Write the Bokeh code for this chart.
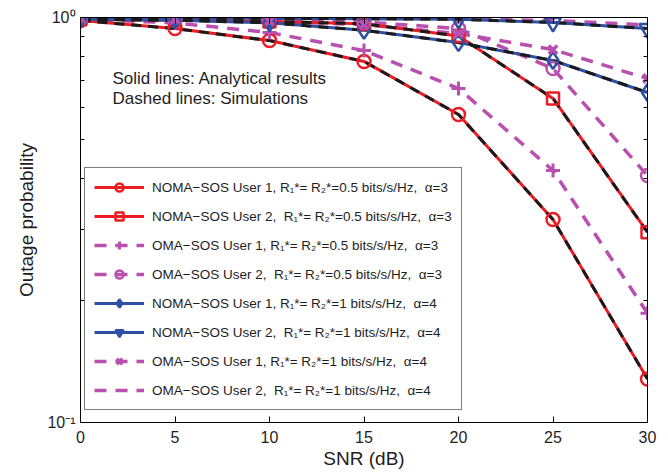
from bokeh.plotting import figure
from bokeh.models import Range1d, FixedTicker, LinearAxis, LogAxis, Legend, LegendItem, Label
from bokeh.embed import file_html
from bokeh.resources import INLINE

snr = [0, 5, 10, 15, 20, 25, 30]

noma_u1_a3 = [0.983, 0.939, 0.877, 0.779, 0.576, 0.317, 0.128]
noma_u2_a3 = [0.99, 0.985, 0.978, 0.965, 0.90, 0.631, 0.295]
oma_u1_a3 = [0.99, 0.97, 0.918, 0.829, 0.668, 0.419, 0.186]
oma_u2_a3 = [0.995, 0.993, 0.99, 0.975, 0.939, 0.748, 0.407]
noma_u1_a4 = [0.99, 0.985, 0.97, 0.93, 0.867, 0.783, 0.653]
noma_u2_a4 = [0.998, 0.997, 0.995, 0.993, 0.99, 0.972, 0.939]
oma_u1_a4 = [0.995, 0.99, 0.98, 0.96, 0.913, 0.833, 0.707]
oma_u2_a4 = [0.999, 0.998, 0.997, 0.995, 0.993, 0.983, 0.958]

labels = [
    "NOMA\u2212SOS User 1, R\u2081*= R\u2082*=0.5 bits/s/Hz,  \u03b1=3",
    "NOMA\u2212SOS User 2,  R\u2081*= R\u2082*=0.5 bits/s/Hz,  \u03b1=3",
    "OMA\u2212SOS User 1, R\u2081*= R\u2082*=0.5 bits/s/Hz,  \u03b1=3",
    "OMA\u2212SOS User 2,  R\u2081*= R\u2082*=0.5 bits/s/Hz,  \u03b1=3",
    "NOMA\u2212SOS User 1, R\u2081*= R\u2082*=1 bits/s/Hz,  \u03b1=4",
    "NOMA\u2212SOS User 2,  R\u2081*= R\u2082*=1 bits/s/Hz,  \u03b1=4",
    "OMA\u2212SOS User 1, R\u2081*= R\u2082*=1 bits/s/Hz,  \u03b1=4",
    "OMA\u2212SOS User 2,  R\u2081*= R\u2082*=1 bits/s/Hz,  \u03b1=4",
]

x_ticks = [0, 5, 10, 15, 20, 25, 30]
y_major = [0.1, 1.0]
y_minor = [0.2, 0.3, 0.4, 0.5, 0.6, 0.7, 0.8, 0.9]
y_tick_labels = {0.1: "10\u207b\u00b9", 1.0: "10\u2070"}

RED = "#ec1c24"
BLUE = "#2f4fa3"
MAG = "#b94fae"
BLK = "#1a1a1a"
FONT = "Liberation Sans"
TXT = "#1e1e1e"

p = figure(width=668, height=473, y_axis_type="log", output_backend="svg",
           toolbar_location=None, x_range=Range1d(0, 30), y_range=Range1d(0.1, 1.0),
           min_border_left=80, min_border_right=21, min_border_top=17, min_border_bottom=51)
p.background_fill_color = "white"
p.border_fill_color = "white"
p.outline_line_color = "black"
p.outline_line_width = 1
p.xgrid.visible = False
p.ygrid.visible = False

xa = p.xaxis[0]
ya = p.yaxis[0]
xa.ticker = FixedTicker(ticks=x_ticks, minor_ticks=[])
ya.ticker = FixedTicker(ticks=y_major, minor_ticks=y_minor)
ya.major_label_overrides = y_tick_labels
for ax in (xa, ya):
    ax.major_tick_in = 6
    ax.major_tick_out = 0
    ax.minor_tick_in = 4
    ax.minor_tick_out = 0
    ax.axis_line_color = "black"
    ax.major_tick_line_color = "black"
    ax.minor_tick_line_color = "black"
    ax.major_label_text_font = FONT
    ax.major_label_text_font_size = "16px"
    ax.major_label_text_color = TXT
    ax.axis_label_text_font = FONT
    ax.axis_label_text_font_size = "19px"
    ax.axis_label_text_font_style = "normal"
    ax.axis_label_text_color = TXT
xa.axis_label = "SNR (dB)"
ya.axis_label = "Outage probability"
xa.major_label_standoff = 8
xa.axis_label_standoff = 2
ya.major_label_standoff = 5
ya.axis_label_standoff = 7

top = LinearAxis(ticker=FixedTicker(ticks=x_ticks, minor_ticks=[]))
right = LogAxis(ticker=FixedTicker(ticks=y_major, minor_ticks=y_minor))
for ax in (top, right):
    ax.major_tick_in = 6
    ax.major_tick_out = 0
    ax.minor_tick_in = 4
    ax.minor_tick_out = 0
    ax.major_label_text_font_size = "6px"
    ax.major_label_text_color = None
    ax.major_label_standoff = 0
    ax.axis_line_color = "black"
p.add_layout(top, "above")
p.add_layout(right, "right")

oma_dash = "12 9"
l_oma_u1_a3 = p.line(snr, oma_u1_a3, line_color=MAG, line_width=3.5, line_dash=oma_dash)
l_oma_u2_a3 = p.line(snr, oma_u2_a3, line_color=MAG, line_width=3.5, line_dash=oma_dash)
l_oma_u1_a4 = p.line(snr, oma_u1_a4, line_color=MAG, line_width=3.5, line_dash=oma_dash)
l_oma_u2_a4 = p.line(snr, oma_u2_a4, line_color=MAG, line_width=3.5, line_dash=oma_dash)

l_n1a3 = p.line(snr, noma_u1_a3, line_color=RED, line_width=3)
l_n2a3 = p.line(snr, noma_u2_a3, line_color=RED, line_width=3)
l_n1a4 = p.line(snr, noma_u1_a4, line_color=BLUE, line_width=3)
l_n2a4 = p.line(snr, noma_u2_a4, line_color=BLUE, line_width=3)
for ys in (noma_u1_a3, noma_u2_a3, noma_u1_a4, noma_u2_a4):
    p.line(snr, ys, line_color=BLK, line_width=3, line_dash="10 7")

m_n1a3 = p.scatter(snr, noma_u1_a3, marker="circle", size=13, fill_color=None, line_color=RED, line_width=2.5)
m_n2a3 = p.scatter(snr, noma_u2_a3, marker="square", size=12, fill_color=None, line_color=RED, line_width=2.5)
m_o1a3 = p.scatter(snr, oma_u1_a3, marker="cross", size=14, line_color=MAG, line_width=3)
m_o2a3 = p.scatter(snr, oma_u2_a3, marker="circle", size=13, fill_color=None, line_color=MAG, line_width=2.5)
m_n1a4 = p.scatter(snr, noma_u1_a4, marker="diamond", size=17, fill_color=None, line_color=BLUE, line_width=2.5)
m_n2a4 = p.scatter(snr, noma_u2_a4, marker="inverted_triangle", size=16, fill_color=None, line_color=BLUE, line_width=2.5)
m_o1a4 = p.scatter(snr, oma_u1_a4, marker="x", size=12, line_color=MAG, line_width=3.5)

items = [
    LegendItem(label=labels[0], renderers=[l_n1a3, m_n1a3]),
    LegendItem(label=labels[1], renderers=[l_n2a3, m_n2a3]),
    LegendItem(label=labels[2], renderers=[l_oma_u1_a3, m_o1a3]),
    LegendItem(label=labels[3], renderers=[l_oma_u2_a3, m_o2a3]),
    LegendItem(label=labels[4], renderers=[l_n1a4, m_n1a4]),
    LegendItem(label=labels[5], renderers=[l_n2a4, m_n2a4]),
    LegendItem(label=labels[6], renderers=[l_oma_u1_a4, m_o1a4]),
    LegendItem(label=labels[7], renderers=[l_oma_u2_a4]),
]
legend = Legend(items=items, location=(4, 12), margin=0, padding=9, spacing=9,
                glyph_height=20, glyph_width=50, label_height=20, label_standoff=8,
                label_text_font=FONT, label_text_font_size="13.5px", label_text_color=TXT,
                border_line_color="black", border_line_width=1.2,
                background_fill_color="white", background_fill_alpha=1.0)
p.add_layout(legend, "center")

for txt, yy in (("Solid lines: Analytical results", 344), ("Dashed lines: Simulations", 324)):
    p.add_layout(Label(x=32, y=yy, x_units="screen", y_units="screen", text=txt,
                       text_font=FONT, text_font_size="17px", text_color=TXT,
                       text_baseline="middle"))

open("out.html", "w").write(file_html(p, INLINE))
